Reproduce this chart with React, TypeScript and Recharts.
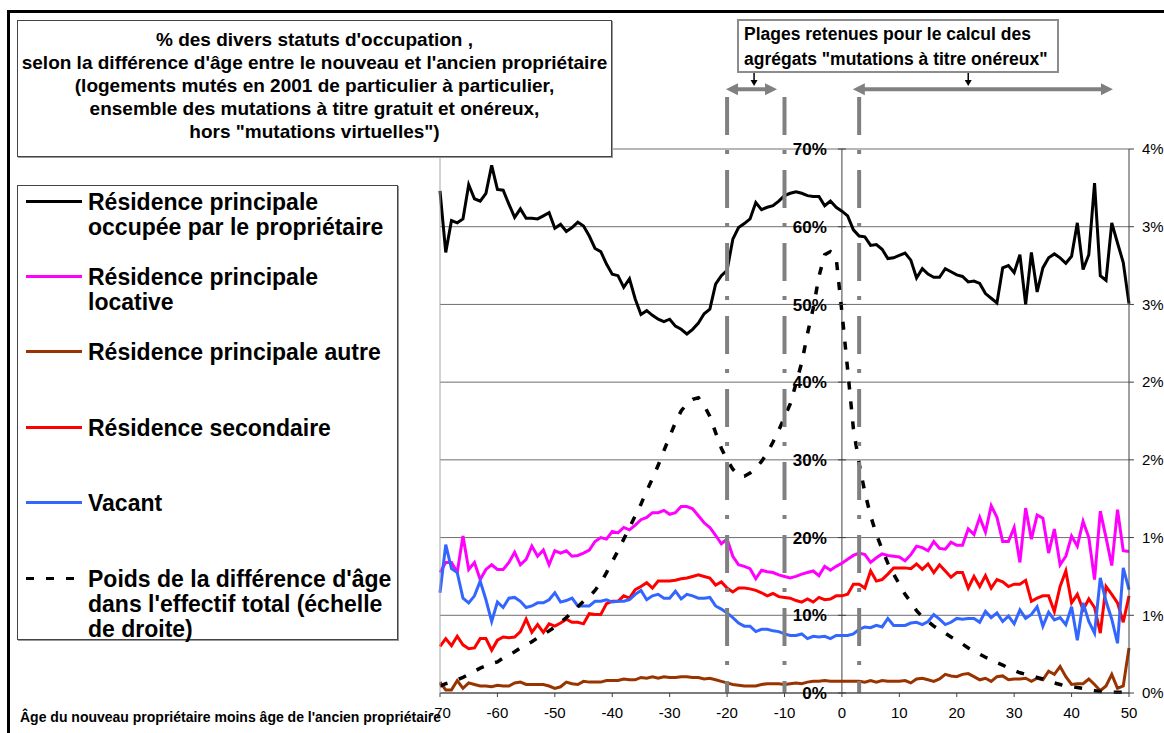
import React from 'react';
import { LineChart, Line, XAxis, YAxis, CartesianGrid, ReferenceLine } from 'recharts';

// age difference: new owner minus former owner
const ages = [
  -70, -69, -68, -67, -66, -65, -64, -63, -62, -61,
  -60, -59, -58, -57, -56, -55, -54, -53, -52, -51,
  -50, -49, -48, -47, -46, -45, -44, -43, -42, -41,
  -40, -39, -38, -37, -36, -35, -34, -33, -32, -31,
  -30, -29, -28, -27, -26, -25, -24, -23, -22, -21,
  -20, -19, -18, -17, -16, -15, -14, -13, -12, -11,
  -10, -9, -8, -7, -6, -5, -4, -3, -2, -1,
  0, 1, 2, 3, 4, 5, 6, 7, 8, 9,
  10, 11, 12, 13, 14, 15, 16, 17, 18, 19,
  20, 21, 22, 23, 24, 25, 26, 27, 28, 29,
  30, 31, 32, 33, 34, 35, 36, 37, 38, 39,
  40, 41, 42, 43, 44, 45, 46, 47, 48, 49,
  50,
];

// % résidence principale occupée par le propriétaire
const ownerOccupied = [
  64.6, 56.7, 60.8, 60.5, 61.0, 65.4, 63.6, 63.3, 64.3, 67.9,
  64.8, 64.7, 62.9, 61.2, 62.3, 61.1, 61.1, 61.0, 61.4, 61.8,
  59.8, 60.3, 59.4, 59.9, 60.6, 60.1, 58.8, 57.2, 56.8, 55.2,
  53.9, 53.7, 52.2, 53.3, 50.7, 48.7, 49.2, 48.6, 48.1, 47.8,
  48.1, 47.2, 46.8, 46.2, 46.8, 47.6, 48.8, 49.4, 52.6, 53.7,
  54.4, 58.4, 59.9, 60.4, 61.0, 63.1, 62.2, 62.5, 62.7, 63.3,
  64.0, 64.3, 64.5, 64.3, 64.0, 63.9, 63.9, 62.7, 63.3, 62.5,
  62.0, 61.4, 59.6, 58.8, 58.7, 57.6, 57.7, 57.1, 55.9, 56.0,
  56.3, 56.6, 55.7, 53.4, 54.6, 53.9, 53.5, 53.5, 54.6, 54.2,
  53.8, 53.6, 52.9, 53.0, 52.7, 51.4, 50.8, 50.2, 54.7, 55.0,
  54.1, 56.4, 50.0, 56.7, 51.6, 54.7, 56.0, 56.5, 56.0, 55.3,
  56.2, 60.5, 54.5, 56.4, 65.6, 53.7, 53.1, 60.5, 57.9, 55.4,
  50.1,
];

// % résidence principale locative
const rental = [
  15.5, 16.8, 16.8, 15.5, 20.2, 15.9, 16.8, 14.6, 15.9, 16.5,
  15.9, 15.9, 16.8, 18.1, 16.5, 17.2, 18.9, 17.6, 18.4, 16.5,
  18.3, 18.0, 18.3, 17.6, 17.7, 18.0, 18.4, 19.5, 20.0, 19.8,
  20.8, 20.6, 21.3, 21.0, 21.6, 22.3, 22.6, 23.2, 23.2, 23.5,
  23.0, 23.2, 24.0, 24.0, 23.7, 22.8, 21.9, 21.3, 20.3, 19.2,
  19.8, 17.6, 16.5, 16.3, 16.0, 14.7, 15.8, 15.6, 15.5, 15.2,
  15.0, 14.8, 15.0, 15.3, 15.5, 15.7, 15.1, 16.3, 15.8, 16.3,
  16.7, 17.2, 17.7, 18.0, 17.8, 16.8, 17.4, 17.9, 17.7, 17.6,
  17.5, 17.0, 17.8, 18.9, 18.7, 18.3, 19.5, 18.6, 18.5, 19.4,
  19.0, 19.0, 21.1, 20.4, 22.6, 20.7, 24.1, 22.6, 19.5, 19.5,
  21.3, 16.8, 23.8, 19.8, 22.9, 22.5, 18.0, 21.1, 16.5, 17.6,
  20.2, 18.9, 22.1, 20.0, 14.6, 23.4, 20.0, 16.4, 23.6, 18.3,
  18.2,
];

// % résidence principale autre
const otherMain = [
  1.4, 0.4, 0.4, 1.6, 0.6, 1.3, 1.1, 0.9, 0.9, 0.8,
  1.0, 0.9, 0.9, 1.3, 1.4, 1.1, 1.1, 1.1, 1.1, 0.9,
  0.6, 0.8, 1.4, 1.2, 1.1, 1.5, 1.4, 1.4, 1.4, 1.6,
  1.6, 1.6, 1.8, 1.7, 1.7, 2.0, 1.9, 2.1, 1.9, 2.1,
  2.0, 2.0, 2.1, 2.1, 2.0, 2.0, 1.8, 1.9, 1.7, 1.5,
  1.3, 1.1, 1.0, 0.9, 0.9, 0.9, 1.1, 1.2, 1.2, 1.2,
  1.1, 1.2, 1.3, 1.2, 1.4, 1.5, 1.5, 1.6, 1.5, 1.5,
  1.5, 1.5, 1.5, 1.5, 1.4, 1.6, 1.4, 1.6, 1.5, 1.5,
  1.5, 1.6, 1.3, 1.8, 1.9, 1.7, 1.5, 1.8, 2.4, 2.2,
  2.1, 2.4, 2.5, 2.1, 1.7, 1.9, 1.5, 2.1, 2.2, 1.7,
  1.8, 1.8, 1.9, 1.5, 1.9, 1.7, 2.8, 2.4, 3.4, 2.1,
  1.1, 1.2, 1.2, 1.8, 1.1, 0.3, 0.9, 2.4, 0.6, 0.9,
  5.8,
];

// % résidence secondaire
const secondary = [
  6.0, 7.0, 6.1, 7.3, 6.2, 5.7, 5.8, 7.0, 7.0, 5.5,
  6.8, 7.2, 7.1, 7.2, 7.9, 9.5, 7.8, 8.8, 7.8, 8.9,
  8.6, 9.0, 9.5, 9.1, 9.1, 8.9, 10.2, 10.1, 10.1, 11.5,
  11.8, 11.8, 12.5, 12.2, 13.3, 13.7, 14.2, 13.5, 14.4, 14.4,
  14.4, 14.5, 14.7, 14.8, 15.0, 15.2, 15.0, 14.8, 13.9, 14.3,
  13.5, 13.0, 13.5, 13.5, 13.4, 13.2, 12.9, 12.5, 12.8, 12.4,
  12.3, 12.2, 11.9, 11.7, 12.1, 11.7, 12.3, 12.0, 12.1, 12.5,
  12.5, 12.7, 14.0, 14.0, 13.5, 15.7, 14.4, 14.6, 15.3, 16.1,
  16.1, 16.1, 16.0, 16.6, 15.9, 16.6, 15.5, 16.5, 15.7, 14.9,
  15.5, 15.5, 13.5, 15.0, 13.7, 15.1, 13.5, 14.6, 14.3, 13.7,
  14.0, 14.0, 14.5, 11.8, 12.2, 12.5, 12.5, 10.5, 13.7, 15.7,
  11.6, 12.7, 10.7, 12.1, 11.0, 7.7, 13.7, 12.7, 11.6, 9.1,
  12.5,
];

// % vacant
const vacant = [
  12.9, 19.1, 16.0, 15.5, 12.2, 11.6, 12.5, 14.4, 12.0, 9.2,
  11.7, 11.0, 12.2, 12.3, 11.8, 11.0, 11.2, 11.6, 11.6, 12.0,
  12.9, 11.7, 11.9, 12.2, 11.2, 11.2, 11.2, 11.8, 11.8, 12.0,
  11.7, 11.8, 11.8, 12.0, 12.7, 13.2, 12.0, 12.5, 12.7, 12.2,
  12.2, 13.1, 12.1, 12.7, 12.5, 12.2, 12.2, 12.3, 11.2, 10.8,
  10.3, 9.7, 9.0, 8.6, 8.6, 7.9, 8.2, 8.2, 8.0, 7.9,
  7.6, 7.4, 7.4, 7.6, 7.0, 7.3, 7.2, 7.3, 7.0, 7.4,
  7.4, 7.4, 7.6, 8.2, 8.5, 8.4, 8.7, 8.5, 9.6, 8.7,
  8.7, 8.7, 9.0, 9.1, 8.8, 9.2, 10.1, 9.5, 8.8, 9.1,
  9.6, 9.5, 9.6, 9.6, 9.1, 10.5, 9.7, 10.3, 9.2, 9.9,
  8.9, 10.7, 9.6, 10.1, 11.1, 8.6, 10.4, 9.4, 9.7, 8.8,
  11.1, 6.8, 11.6, 9.2, 7.7, 14.8, 11.8, 9.5, 6.4, 16.1,
  13.3,
];

// poids de la différence d'âge dans l'effectif total (%, right scale)
const weightShare = [
  0.045, 0.06, 0.07, 0.085, 0.10, 0.12, 0.14, 0.16, 0.175, 0.19,
  0.20, 0.225, 0.245, 0.265, 0.29, 0.31, 0.33, 0.355, 0.375, 0.40,
  0.425, 0.455, 0.485, 0.52, 0.555, 0.59, 0.62, 0.66, 0.71, 0.775,
  0.845, 0.915, 0.99, 1.065, 1.14, 1.215, 1.30, 1.38, 1.465, 1.56,
  1.65, 1.74, 1.815, 1.86, 1.89, 1.90, 1.85, 1.78, 1.675, 1.575,
  1.50, 1.44, 1.40, 1.395, 1.415, 1.445, 1.49, 1.545, 1.615, 1.69,
  1.775, 1.86, 1.99, 2.125, 2.31, 2.475, 2.68, 2.82, 2.84, 2.80,
  2.45, 2.08, 1.70, 1.475, 1.29, 1.14, 1.02, 0.925, 0.835, 0.765,
  0.70, 0.635, 0.585, 0.53, 0.49, 0.46, 0.43, 0.405, 0.385, 0.36,
  0.34, 0.315, 0.29, 0.27, 0.25, 0.23, 0.215, 0.195, 0.18, 0.16,
  0.145, 0.13, 0.12, 0.11, 0.10, 0.09, 0.075, 0.065, 0.055, 0.045,
  0.04, 0.035, 0.03, 0.02, 0.015, 0.01, 0.01, 0.005, 0.005, 0.005,
  0.005,
];

const xTicks = [-70, -60, -50, -40, -30, -20, -10, 0, 10, 20, 30, 40, 50];
const leftTicks = [0, 10, 20, 30, 40, 50, 60, 70];
const rightTicks = [0, 0.5, 1, 1.5, 2, 2.5, 3, 3.5];

// bounds of the "mutations à titre onéreux" ranges
const rangeCuts = [-20, -10, 3];
const rangeArrows = [
  { from: -20.2, to: -11.3, pointer: -15.3 },
  { from: 1.9, to: 47.2, pointer: 22 },
];

const titleLines = [
  "% des divers statuts d'occupation ,",
  "selon la différence d'âge entre le nouveau et l'ancien propriétaire",
  '(logements mutés en 2001 de particulier à particulier,',
  'ensemble des mutations à titre gratuit et onéreux,',
  'hors "mutations virtuelles")',
];
const rangeNoteLines = ['Plages retenues pour le calcul des', 'agrégats "mutations à titre onéreux"'];

const series = [
  { key: 'owner', values: ownerOccupied, color: '#000000', label: ['Résidence principale', 'occupée par le propriétaire'] },
  { key: 'rental', values: rental, color: '#ff00ff', label: ['Résidence principale', 'locative'] },
  { key: 'other', values: otherMain, color: '#993300', label: ['Résidence principale autre'] },
  { key: 'second', values: secondary, color: '#ff0000', label: ['Résidence secondaire'] },
  { key: 'vacant', values: vacant, color: '#3366ff', label: ['Vacant'] },
];
const weightLabel = ["Poids de la différence d'âge", "dans l'effectif total (échelle", 'de droite)'];

const data = ages.map((age, i) => {
  const row: any = { age, weight: weightShare[i] };
  series.forEach((s) => { row[s.key] = s.values[i]; });
  return row;
});

const W = 1164;
const H = 733;
const PLOT_LEFT = 440;
const PLOT_RIGHT = 1129;
const PLOT_TOP = 149;
const PLOT_BOTTOM = 693;
const X_MIN = -70;
const X_MAX = 50;
const ZERO_X = PLOT_LEFT + ((0 - X_MIN) / (X_MAX - X_MIN)) * (PLOT_RIGHT - PLOT_LEFT);
const FONT = '"Liberation Sans", Arial, Helvetica, sans-serif';

// left scale labels sit beside the vertical axis at x = 0
function LeftTick(props: any) {
  const { y, payload } = props;
  return (
    <g>
      <line x1={ZERO_X - 4} x2={ZERO_X + 4} y1={y} y2={y} stroke="#404040" />
      <text x={ZERO_X - 15} y={y} dy="0.36em" textAnchor="end" fontSize={17} fontWeight="bold" fill="#000" fontFamily={FONT}>
        {payload.value}%
      </text>
    </g>
  );
}

function makeArrow(color: string, width: number, head: number, halfW: number, both: boolean) {
  return (p: any) => {
    const { x1, y1, x2, y2 } = p;
    const len = Math.hypot(x2 - x1, y2 - y1) || 1;
    const ux = (x2 - x1) / len;
    const uy = (y2 - y1) / len;
    const nx = -uy;
    const ny = ux;
    const headPts = (tx: number, ty: number, dx: number, dy: number) => {
      const bx = tx - dx * head;
      const by = ty - dy * head;
      return `${tx},${ty} ${bx + nx * halfW},${by + ny * halfW} ${bx - nx * halfW},${by - ny * halfW}`;
    };
    const sx = both ? x1 + ux * head * 0.8 : x1;
    const sy = both ? y1 + uy * head * 0.8 : y1;
    return (
      <g>
        <line x1={sx} y1={sy} x2={x2 - ux * head * 0.8} y2={y2 - uy * head * 0.8} stroke={color} strokeWidth={width} />
        <polygon points={headPts(x2, y2, ux, uy)} fill={color} />
        {both && <polygon points={headPts(x1, y1, -ux, -uy)} fill={color} />}
      </g>
    );
  };
}

const grayArrow = makeArrow('#808080', 4, 12, 6, true);
const blackArrow = makeArrow('#000000', 1.5, 6, 3.5, false);

function Legend() {
  const rows = [
    ...series.map((s) => ({ color: s.color, dashed: false, lines: s.label })),
    { color: '#000000', dashed: true, lines: weightLabel },
  ];
  return (
    <div style={{ position: 'absolute', left: 17, top: 185, width: 381, height: 455, boxSizing: 'border-box', border: '1px solid #444', boxShadow: '1px 1px 0 #999', background: '#fff' }}>
      {rows.map((r, i) => {
        const cy = 16 + i * 75.4;
        return (
          <div key={i} style={{ position: 'absolute', left: 0, top: cy - 12.5, width: 380 }}>
            <svg width={70} height={25} style={{ position: 'absolute', left: 0, top: 0 }}>
              <line x1={8} x2={r.dashed ? 57 : 64} y1={11.5} y2={11.5} stroke={r.color} strokeWidth={3} strokeDasharray={r.dashed ? '8 12' : undefined} />
            </svg>
            <div style={{ position: 'absolute', left: 70, top: 0, fontSize: 23, lineHeight: '25px', fontWeight: 'bold', whiteSpace: 'nowrap', color: '#000' }}>
              {r.lines.map((t, j) => <div key={j}>{t}</div>)}
            </div>
          </div>
        );
      })}
    </div>
  );
}

export default function App() {
  return (
    <div style={{ position: 'absolute', left: 0, top: 0, width: W, height: H, background: '#fff', overflow: 'hidden', fontFamily: FONT }}>
      <div style={{ position: 'absolute', left: 7, top: 10, width: W, height: H, borderLeft: '3px solid #000', borderTop: '3px solid #000' }} />
      <div style={{ position: 'absolute', left: 0, top: 0 }}>
        <LineChart width={W} height={H} data={data} margin={{ top: PLOT_TOP, right: 0, bottom: 0, left: PLOT_LEFT - 1 }}>
          <CartesianGrid yAxisId="left" vertical={false} stroke="#6e6e6e" />
          <XAxis
            dataKey="age"
            type="number"
            domain={[X_MIN, X_MAX]}
            ticks={xTicks}
            interval={0}
            height={H - PLOT_BOTTOM}
            tickSize={4}
            tickMargin={10}
            stroke="#404040"
            tick={{ fontSize: 15, fill: '#000', fontFamily: FONT }}
          />
          <YAxis
            yAxisId="left"
            domain={[0, 70]}
            ticks={leftTicks}
            interval={0}
            width={1}
            tickLine={false}
            axisLine={{ stroke: '#a6a6a6' }}
            tick={(p: any) => <LeftTick {...p} />}
          />
          <YAxis
            yAxisId="right"
            orientation="right"
            domain={[0, 3.5]}
            ticks={rightTicks}
            interval={0}
            width={W - PLOT_RIGHT}
            tickSize={5}
            tickMargin={8}
            stroke="#404040"
            tickFormatter={(v: number) => `${Math.round(v)}%`}
            tick={{ fontSize: 15, fill: '#000', fontFamily: FONT }}
          />
          <ReferenceLine yAxisId="left" x={0} stroke="#404040" strokeWidth={1} />
          {series.map((s) => (
            <Line
              key={s.key}
              yAxisId="left"
              dataKey={s.key}
              type="linear"
              stroke={s.color}
              strokeWidth={3}
              dot={false}
              isAnimationActive={false}
            />
          ))}
          <Line
            yAxisId="right"
            dataKey="weight"
            type="linear"
            stroke="#000"
            strokeWidth={3.5}
            strokeDasharray="8 12"
            dot={false}
            isAnimationActive={false}
          />
          {rangeCuts.map((c) => (
            <ReferenceLine
              key={`cut${c}`}
              yAxisId="left"
              segment={[{ x: c, y: 76.7 }, { x: c, y: 0 }]}
              ifOverflow="visible"
              stroke="#808080"
              strokeWidth={4}
              strokeDasharray="38 15 4 16"
            />
          ))}
          {rangeArrows.map((a) => (
            <ReferenceLine
              key={`arr${a.from}`}
              yAxisId="left"
              segment={[{ x: a.from, y: 77.7 }, { x: a.to, y: 77.7 }]}
              ifOverflow="visible"
              shape={grayArrow}
            />
          ))}
          {rangeArrows.map((a) => (
            <ReferenceLine
              key={`ptr${a.pointer}`}
              yAxisId="left"
              segment={[{ x: a.pointer, y: 80.0 }, { x: a.pointer, y: 78.1 }]}
              ifOverflow="visible"
              shape={blackArrow}
            />
          ))}
        </LineChart>
      </div>
      <div style={{ position: 'absolute', left: 17, top: 20, width: 595, height: 137, boxSizing: 'border-box', border: '1px solid #444', boxShadow: '1px 1px 0 #999', background: '#fff', textAlign: 'center', paddingTop: 7, fontSize: 19, lineHeight: '23px', fontWeight: 'bold', color: '#000' }}>
        {titleLines.map((t, i) => <div key={i} style={{ whiteSpace: 'nowrap' }}>{t}</div>)}
      </div>
      <div style={{ position: 'absolute', left: 737, top: 19, width: 322, height: 54, boxSizing: 'border-box', border: '2px solid #8c8c8c', background: '#fff', paddingLeft: 5, paddingTop: 1, fontSize: 17.5, lineHeight: '25px', fontWeight: 'bold', color: '#000' }}>
        {rangeNoteLines.map((t, i) => <div key={i} style={{ whiteSpace: 'nowrap' }}>{t}</div>)}
      </div>
      <Legend />
      <div style={{ position: 'absolute', left: 20, top: 709, fontSize: 14, fontWeight: 'bold', color: '#000', whiteSpace: 'nowrap' }}>
        Âge du nouveau propriétaire moins âge de l'ancien propriétaire
      </div>
    </div>
  );
}
